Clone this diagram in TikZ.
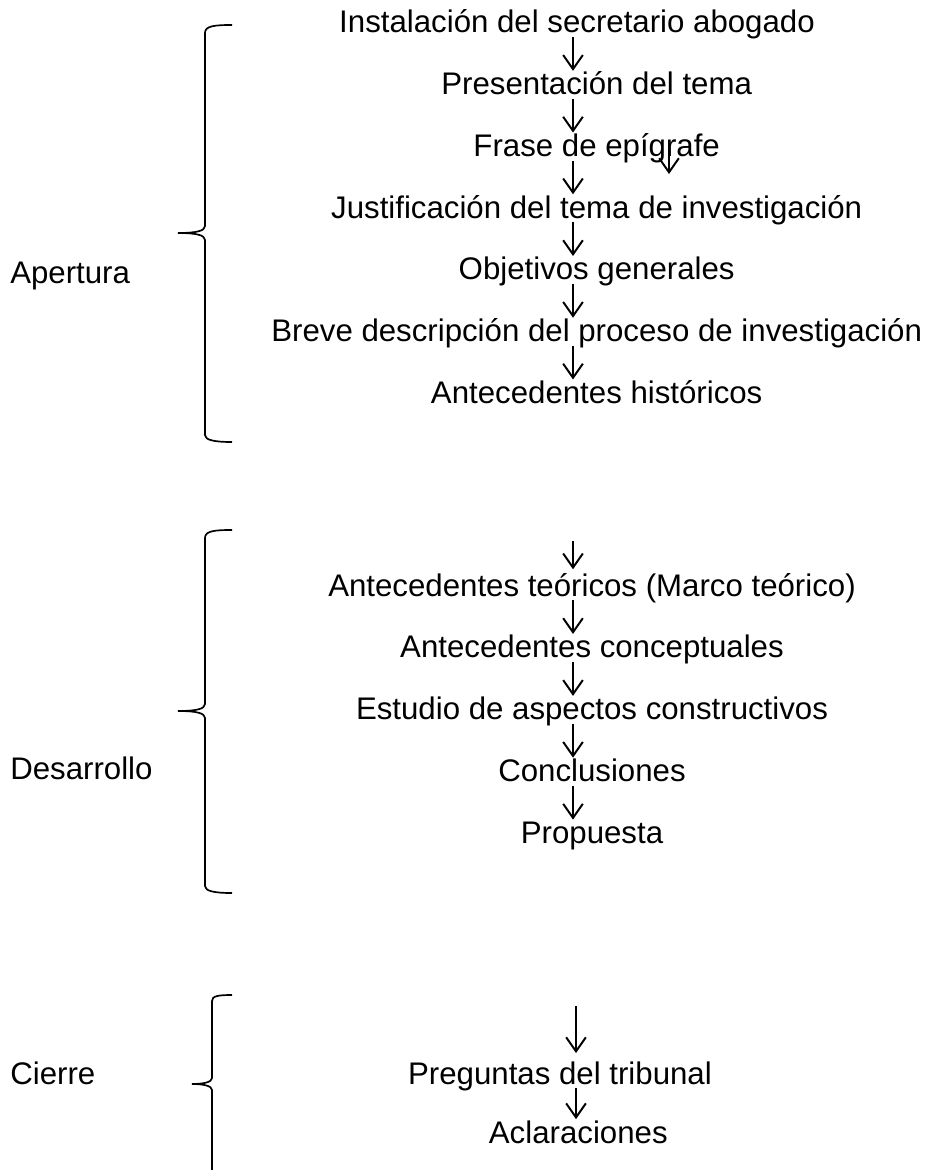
\documentclass[tikz,border=0pt]{standalone}
\usepackage{fontspec}
\setmainfont{Liberation Sans}
\usetikzlibrary{arrows.meta,positioning}

\begin{document}
\begin{tikzpicture}[x=0.025cm,y=-0.025cm,
  every node/.style={font=\fontsize{22.2}{26}\selectfont,inner sep=0pt},
  paso/.style={anchor=base},
  flecha/.style={-{Straight Barb[length=10pt,width=14pt]},line width=1.4pt,shorten <=3pt,shorten >=17pt},
  llave/.style={line width=1.2pt}]
  \useasboundingbox (0,0) rectangle (931,1170);
  \coordinate (eje) at (573,0);

  % Apertura
  \node[paso] (instal) at (577,33) {Instalación del secretario abogado};
  \node[paso,below=43.9pt of instal.base,anchor=base,xshift=14] (present) {Presentación del tema};
  \node[paso,below=43.9pt of present.base,anchor=base] (frase) {Frase de epígrafe};
  \node[paso,below=43.9pt of frase.base,anchor=base] (justif) {Justificación del tema de investigación};
  \node[paso,below=43.9pt of justif.base,anchor=base] (objet) {Objetivos generales};
  \node[paso,below=43.9pt of objet.base,anchor=base] (breve) {Breve descripción del proceso de investigación};
  \node[paso,below=43.9pt of breve.base,anchor=base] (histor) {Antecedentes históricos};
  \draw[flecha] (instal.base -| eje) -- (present.base -| eje);
  \draw[flecha] (present.base -| eje) -- (frase.base -| eje);
  \draw[flecha] (frase.base -| eje) -- (justif.base -| eje);
  \draw[flecha] (justif.base -| eje) -- (objet.base -| eje);
  \draw[flecha] (objet.base -| eje) -- (breve.base -| eje);
  \draw[flecha] (breve.base -| eje) -- (histor.base -| eje);
  \coordinate (sueltaA) at (669,140);
  \coordinate (sueltaB) at (669,174);
  \draw[flecha,shorten <=0pt,shorten >=0pt] (sueltaA) -- (sueltaB);
  \node[anchor=base west] (apertura) at (10,283) {Apertura};
  \draw[llave] (232,25) .. controls (214,25) and (205,26) .. (205,33) -- (205,226)
    .. controls (205,231) and (196,233) .. (178,233) .. controls (196,233) and (205,235) .. (205,240)
    -- (205,435) .. controls (205,440) and (214,442) .. (232,442);

  % Desarrollo
  \node[paso] (teoric) at (592,596) {Antecedentes teóricos (Marco teórico)};
  \node[paso,below=44pt of teoric.base,anchor=base] (concep) {Antecedentes conceptuales};
  \node[paso,below=44pt of concep.base,anchor=base] (estudio) {Estudio de aspectos constructivos};
  \node[paso,below=44pt of estudio.base,anchor=base] (concl) {Conclusiones};
  \node[paso,below=44pt of concl.base,anchor=base] (propu) {Propuesta};
  \coordinate (inicioD) at (573,541);
  \draw[flecha,shorten <=0pt,shorten >=19pt] (inicioD) -- (teoric.base -| eje);
  \draw[flecha] (teoric.base -| eje) -- (concep.base -| eje);
  \draw[flecha] (concep.base -| eje) -- (estudio.base -| eje);
  \draw[flecha] (estudio.base -| eje) -- (concl.base -| eje);
  \draw[flecha] (concl.base -| eje) -- (propu.base -| eje);
  \node[anchor=base west] (desarr) at (10,779) {Desarrollo};
  \draw[llave] (232,530) .. controls (214,530) and (205,531) .. (205,538) -- (205,704)
    .. controls (205,709) and (196,711) .. (178,711) .. controls (196,711) and (205,713) .. (205,718)
    -- (205,886) .. controls (205,891) and (214,893) .. (232,893);

  % Cierre
  \node[paso] (pregun) at (560,1084) {Preguntas del tribunal};
  \node[paso,below=42pt of pregun.base,anchor=base,xshift=13] (aclar) {Aclaraciones};
  \coordinate (inicioC) at (576,1006);
  \draw[flecha,shorten <=0pt,shorten >=22pt] (inicioC) -- (pregun.base -| inicioC);
  \draw[flecha] (pregun.base -| inicioC) -- (aclar.base -| inicioC);
  \node[anchor=base west] (cierre) at (10,1084) {Cierre};
  \draw[llave] (232,995) .. controls (218,995) and (212,996) .. (212,1001) -- (212,1078)
    .. controls (212,1082) and (204,1084) .. (192,1084) .. controls (204,1084) and (212,1086) .. (212,1090)
    -- (212,1170);
\end{tikzpicture}
\end{document}
